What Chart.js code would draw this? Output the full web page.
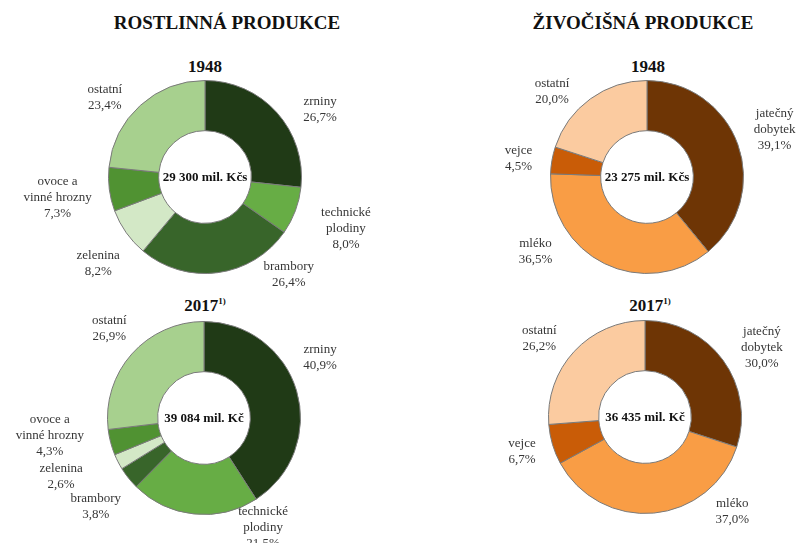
<!DOCTYPE html>
<html lang="cs">
<head>
<meta charset="utf-8">
<script src="https://cdn.jsdelivr.net/npm/chart.js@4"></script>
<style>
    html, body { margin: 0; padding: 0; background: #ffffff; overflow: hidden; }
    body { width: 805px; height: 547px; position: relative; font-family: "Liberation Serif", "DejaVu Serif", serif; }
    .title { position: absolute; top: 12px; font-weight: bold; font-size: 19px; color: #111; text-align: center; width: 300px; }
    .year { position: absolute; font-weight: bold; font-size: 17px; color: #111; text-align: center; width: 120px; }
    .year sup { font-size: 9px; vertical-align: 7px; line-height: 0; }
    canvas { position: absolute; }
</style>
</head>
<body>
<div class="title" style="left:77px;">ROSTLINNÁ PRODUKCE</div>
<div class="title" style="left:493px;">ŽIVOČIŠNÁ PRODUKCE</div>
<div class="year" style="left:145px; top:57px;">1948</div>
<div class="year" style="left:588px; top:57px;">1948</div>
<div class="year" style="left:145px; top:296px;">2017<sup>1)</sup></div>
<div class="year" style="left:590px; top:296px;">2017<sup>1)</sup></div>

<canvas id="plant1948" width="390" height="250" style="left:10px; top:52px;"></canvas>
<canvas id="animal1948" width="390" height="250" style="left:452px; top:52px;"></canvas>
<canvas id="plant2017" width="390" height="250" style="left:9px; top:293px;"></canvas>
<canvas id="animal2017" width="390" height="250" style="left:450px; top:292px;"></canvas>

<script>
// Rostlinná produkce
const plantLabels = [['zrniny'], ['technické', 'plodiny'], ['brambory'], ['zelenina'], ['ovoce a', 'vinné hrozny'], ['ostatní']];
const plant1948 = [26.7, 8.0, 26.4, 8.2, 7.3, 23.4];
const plant2017 = [40.9, 21.5, 3.8, 2.6, 4.3, 26.9];
const plantTotal1948 = '29 300 mil. Kčs';
const plantTotal2017 = '39 084 mil. Kč';

// Živočišná produkce
const animalLabels = [['jatečný', 'dobytek'], ['mléko'], ['vejce'], ['ostatní']];
const animal1948 = [39.1, 36.5, 4.5, 20.0];
const animal2017 = [30.0, 37.0, 6.7, 26.2];
const animalTotal1948 = '23 275 mil. Kčs';
const animalTotal2017 = '36 435 mil. Kč';

const plantColors = ['#203a16', '#67ad45', '#38652a', '#d3e8c6', '#509232', '#a7d08e'];
const animalColors = ['#6e3505', '#f99d45', '#c95c07', '#fbcba0'];

const fmt = v => v.toFixed(1).replace('.', ',') + '%';

// popisky kolem výseče + text uprostřed
const ringLabels = {
    id: 'ringLabels',
    afterDraw(chart, args, opts) {
        const ctx = chart.ctx;
        const meta = chart.getDatasetMeta(0);
        const values = chart.data.datasets[0].data;
        ctx.save();
        ctx.textAlign = 'center';
        ctx.textBaseline = 'middle';
        meta.data.forEach((arc, i) => {
            const p = arc.getProps(['x', 'y', 'startAngle', 'endAngle', 'outerRadius']);
            const mid = (p.startAngle + p.endAngle) / 2;
            const dist = p.outerRadius + (opts.dist || 38);
            const nudge = (opts.nudge && opts.nudge[i]) || [0, 0];
            const lx = p.x + Math.cos(mid) * dist + nudge[0];
            const ly = p.y + Math.sin(mid) * dist + nudge[1];
            const lines = [...chart.data.labels[i], fmt(values[i])];
            ctx.font = '13px "Liberation Serif", serif';
            ctx.fillStyle = '#363636';
            const lh = 16;
            lines.forEach((t, k) => {
                ctx.fillText(t, lx, ly + (k - (lines.length - 1) / 2) * lh);
            });
        });
        const c = meta.data[0];
        ctx.font = 'bold 13px "Liberation Serif", serif';
        ctx.fillStyle = '#111';
        ctx.fillText(opts.center, c.x, c.y + 1);
        ctx.restore();
    }
};

function makeRing(id, labels, data, colors, center, nudge) {
    return new Chart(document.getElementById(id), {
        type: 'doughnut',
        data: {
            labels: labels,
            datasets: [{
                data: data,
                backgroundColor: colors,
                borderColor: '#7a7a7a',
                borderWidth: 1
            }]
        },
        options: {
            responsive: false,
            animation: false,
            cutout: '48%',
            layout: { padding: { left: 98, right: 98, top: 28, bottom: 28 } },
            plugins: {
                legend: { display: false },
                tooltip: { enabled: false },
                ringLabels: { center: center, dist: 38, nudge: nudge }
            }
        },
        plugins: [ringLabels]
    });
}

makeRing('plant1948', plantLabels, plant1948, plantColors, plantTotal1948,
    [[15, 22], [15, 4], [66, -36], [3, 9], [-14, 3], [-10, 20]]);
makeRing('plant2017', plantLabels, plant2017, plantColors, plantTotal2017,
    [[-13, -22], [73, -24], [-3, 5], [-23, -2], [-24, -16], [6, 0]]);
makeRing('animal1948', animalLabels, animal1948, animalColors, animalTotal1948,
    [[1, -2], [-52, -46], [4, 5], [-16, 23]]);
makeRing('animal2017', animalLabels, animal2017, animalColors, animalTotal2017,
    [[8, 10], [75, -39], [6, -4], [-7, 13]]);
</script>
</body>
</html>
